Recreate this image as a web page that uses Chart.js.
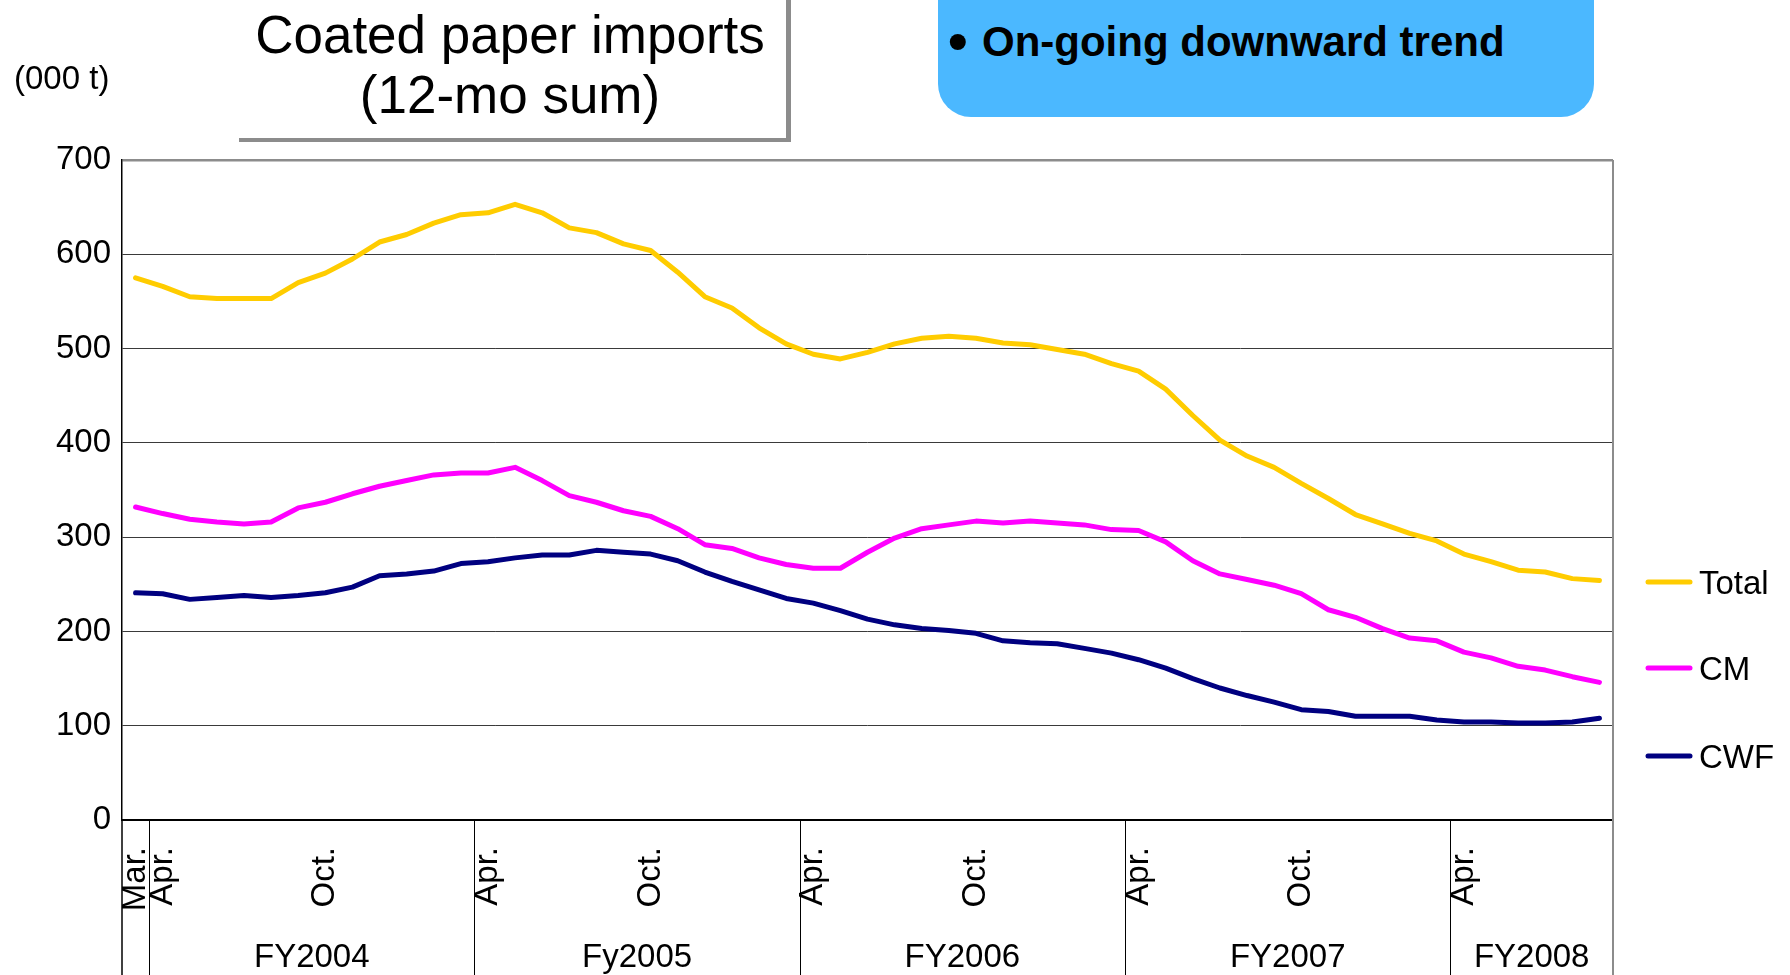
<!DOCTYPE html>
<html>
<head>
<meta charset="utf-8">
<script src="https://cdn.jsdelivr.net/npm/chart.js@4"></script>
<style>
html, body { margin: 0; padding: 0; background: #fff; }
#marco { position: relative; width: 1790px; height: 975px; overflow: hidden; font-family: "Liberation Sans", Arial, sans-serif; }
canvas { display: block; position: absolute; left: 0; top: 0; }
.caja-titulo { position: absolute; left: 234px; top: -20px; width: 552px; height: 158px; background: #fff; box-shadow: 5px 4px 0 #8c8c8c; }
.titulo { position: absolute; left: 234px; top: 5px; width: 552px; text-align: center; font-size: 53px; line-height: 60px; color: #000; }
.unidad { position: absolute; left: 14px; top: 61px; font-size: 33px; line-height: 33px; color: #000; }
.nota { position: absolute; left: 938px; top: -60px; width: 656px; height: 177px; background: #4bb8ff; border-radius: 33px; }
.nota-punto { position: absolute; left: 948px; top: 13px; font-size: 56px; line-height: 56px; font-weight: bold; color: #000; }
.nota-texto { position: absolute; left: 982px; top: 21px; font-size: 42px; line-height: 42px; font-weight: bold; color: #000; }
</style>
</head>
<body>
<div id="marco">
  <canvas id="graficaPapel" width="1790" height="975"></canvas>
  <div class="caja-titulo"></div>
  <div class="titulo">Coated paper imports<br>(12-mo sum)</div>
  <div class="unidad">(000 t)</div>
  <div class="nota"></div>
  <div class="nota-punto">•</div>
  <div class="nota-texto">On-going downward trend</div>
</div>
<script>
// meses: mar 2004 .. sep 2008 (55 puntos)
const meses = [
    "2004-03", "2004-04", "2004-05", "2004-06", "2004-07", "2004-08", "2004-09", "2004-10", "2004-11", "2004-12",
    "2005-01", "2005-02", "2005-03", "2005-04", "2005-05", "2005-06", "2005-07", "2005-08", "2005-09", "2005-10",
    "2005-11", "2005-12", "2006-01", "2006-02", "2006-03", "2006-04", "2006-05", "2006-06", "2006-07", "2006-08",
    "2006-09", "2006-10", "2006-11", "2006-12", "2007-01", "2007-02", "2007-03", "2007-04", "2007-05", "2007-06",
    "2007-07", "2007-08", "2007-09", "2007-10", "2007-11", "2007-12", "2008-01", "2008-02", "2008-03", "2008-04",
    "2008-05", "2008-06", "2008-07", "2008-08", "2008-09"
];

// etiquetas visibles del eje x
const etiquetasMes = [
    "Mar.", "Apr.", "", "", "", "", "", "Oct.", "", "", "", "", "",
    "Apr.", "", "", "", "", "", "Oct.", "", "", "", "", "",
    "Apr.", "", "", "", "", "", "Oct.", "", "", "", "", "",
    "Apr.", "", "", "", "", "", "Oct.", "", "", "", "", "",
    "Apr.", "", "", "", "", ""
];

const anosFiscales = ["FY2004", "Fy2005", "FY2006", "FY2007", "FY2008"];
const inicioFY = [1, 13, 25, 37, 49]; // indice del primer mes de cada año fiscal

const total = [
    575, 566, 555, 553, 553, 553, 570, 580, 595, 613,
    621, 633, 642, 644, 653, 644, 628, 623, 611, 604,
    581, 555, 543, 522, 505, 494, 489, 496, 505, 511,
    513, 511, 506, 504, 499, 494, 484, 476, 457, 429,
    403, 386, 374, 357, 341, 324, 314, 304, 296, 282,
    274, 265, 263, 256, 254
];

const cm = [
    332, 325, 319, 316, 314, 316, 331, 337, 346, 354,
    360, 366, 368, 368, 374, 360, 344, 337, 328, 322,
    309, 292, 288, 278, 271, 267, 267, 284, 299, 309,
    313, 317, 315, 317, 315, 313, 308, 307, 295, 275,
    261, 255, 249, 240, 223, 215, 203, 193, 190, 178,
    172, 163, 159, 152, 146
];

const cwf = [
    241, 240, 234, 236, 238, 236, 238, 241, 247, 259,
    261, 264, 272, 274, 278, 281, 281, 286, 284, 282,
    275, 263, 253, 244, 235, 230, 222, 213, 207, 203,
    201, 198, 190, 188, 187, 182, 177, 170, 161, 150,
    140, 132, 125, 117, 115, 110, 110, 110, 106, 104,
    104, 103, 103, 104, 108
];

const fuente = "Liberation Sans, Arial, sans-serif";

// ejes de categorias en dos niveles + leyenda a la derecha
const decoracion = {
    id: "decoracion",
    afterDraw(chart) {
        const { ctx, chartArea: a } = chart;
        const x = chart.scales.x;
        const alto = chart.height;
        ctx.save();

        // borde derecho gris hasta abajo
        ctx.strokeStyle = "#8c8c8c";
        ctx.lineWidth = 2;
        ctx.beginPath();
        ctx.moveTo(a.right, a.top);
        ctx.lineTo(a.right, alto);
        ctx.stroke();

        // eje izquierdo prolongado
        ctx.strokeStyle = "#000";
        ctx.lineWidth = 1.5;
        ctx.beginPath();
        ctx.moveTo(a.left, a.bottom);
        ctx.lineTo(a.left, alto);
        ctx.stroke();

        // divisiones entre años fiscales
        const limite = i => (x.getPixelForValue(i - 1) + x.getPixelForValue(i)) / 2;
        ctx.lineWidth = 1;
        inicioFY.forEach(i => {
            const px = Math.round(limite(i)) + 0.5;
            ctx.beginPath();
            ctx.moveTo(px, a.bottom);
            ctx.lineTo(px, alto);
            ctx.stroke();
        });

        // nombres de años fiscales
        ctx.fillStyle = "#000";
        ctx.font = "33px " + fuente;
        ctx.textAlign = "center";
        ctx.textBaseline = "alphabetic";
        anosFiscales.forEach((fy, k) => {
            const izq = limite(inicioFY[k]);
            const der = k + 1 < inicioFY.length ? limite(inicioFY[k + 1]) : a.right;
            ctx.fillText(fy, (izq + der) / 2, 967);
        });

        // leyenda
        const filas = [582, 668, 756];
        ctx.textAlign = "left";
        ctx.lineCap = "round";
        chart.data.datasets.forEach((ds, k) => {
            const y = filas[k];
            ctx.strokeStyle = ds.borderColor;
            ctx.lineWidth = 5;
            ctx.beginPath();
            ctx.moveTo(1648, y);
            ctx.lineTo(1690, y);
            ctx.stroke();
            ctx.fillStyle = "#000";
            ctx.fillText(ds.label, 1699, y + 12);
        });

        ctx.restore();
    }
};

const ctx = document.getElementById("graficaPapel").getContext("2d");
new Chart(ctx, {
    type: "line",
    data: {
        labels: meses,
        datasets: [
            { label: "Total", data: total, borderColor: "#ffcc00" },
            { label: "CM", data: cm, borderColor: "#ff00ff" },
            { label: "CWF", data: cwf, borderColor: "#000080" }
        ]
    },
    options: {
        responsive: false,
        animation: false,
        layout: {
            padding: { top: 160, right: 177, bottom: 0, left: 0 }
        },
        elements: {
            point: { radius: 0 },
            line: { tension: 0, borderWidth: 5, borderCapStyle: "round", borderJoinStyle: "round", fill: false }
        },
        plugins: {
            legend: { display: false },
            tooltip: { enabled: false }
        },
        scales: {
            x: {
                offset: true,
                grid: { display: false, drawTicks: false },
                border: { display: true, color: "#000", width: 2 },
                ticks: {
                    autoSkip: false,
                    minRotation: 90,
                    maxRotation: 90,
                    padding: 27,
                    color: "#000",
                    font: { family: fuente, size: 33 },
                    callback: (v, i) => etiquetasMes[i]
                },
                afterFit: s => { s.height = 155; }
            },
            y: {
                min: 0,
                max: 700,
                ticks: {
                    stepSize: 100,
                    padding: 11,
                    color: "#000",
                    font: { family: fuente, size: 33 }
                },
                grid: {
                    drawTicks: false,
                    color: c => (c.tick && c.tick.value === 700) ? "#8c8c8c" : "#3a3a3a",
                    lineWidth: c => (c.tick && c.tick.value === 700) ? 2.5 : 1
                },
                border: { color: "#000", width: 1.5 },
                afterFit: s => { s.width = 122; }
            }
        }
    },
    plugins: [decoracion]
});
</script>
</body>
</html>
